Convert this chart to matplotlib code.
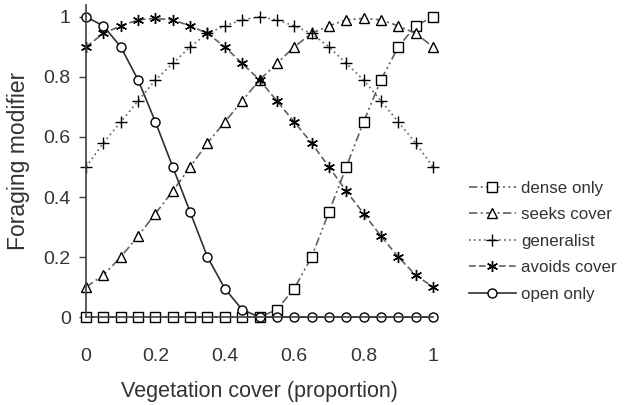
import numpy as np
import matplotlib
matplotlib.use("Agg")
import matplotlib.pyplot as plt

plt.rcParams['font.family'] = ['Liberation Sans', 'DejaVu Sans']

# vegetation cover values (0 to 1 in steps of 0.05)
cover = [0.0, 0.05, 0.1, 0.15, 0.2, 0.25, 0.3, 0.35, 0.4, 0.45, 0.5,
         0.55, 0.6, 0.65, 0.7, 0.75, 0.8, 0.85, 0.9, 0.95, 1.0]

dense_only = [0, 0, 0, 0, 0, 0, 0, 0, 0, 0, 0,
              0.025, 0.095, 0.2, 0.35, 0.5, 0.65, 0.79, 0.9, 0.97, 1.0]
seeks_cover = [0.1, 0.14, 0.2, 0.27, 0.345, 0.42, 0.5, 0.58, 0.65, 0.72, 0.79,
               0.845, 0.9, 0.945, 0.97, 0.99, 0.995, 0.99, 0.97, 0.945, 0.9]
generalist = [0.5, 0.58, 0.65, 0.72, 0.79, 0.845, 0.9, 0.945, 0.97, 0.99, 1.0,
              0.99, 0.97, 0.945, 0.9, 0.845, 0.79, 0.72, 0.65, 0.58, 0.5]
avoids_cover = [0.9, 0.945, 0.97, 0.99, 0.995, 0.99, 0.97, 0.945, 0.9, 0.845, 0.79,
                0.72, 0.65, 0.58, 0.5, 0.42, 0.345, 0.27, 0.2, 0.14, 0.1]
open_only = [1.0, 0.97, 0.9, 0.79, 0.65, 0.5, 0.35, 0.2, 0.095, 0.025, 0,
             0, 0, 0, 0, 0, 0, 0, 0, 0, 0]

xticks = [0, 0.2, 0.4, 0.6, 0.8, 1]
xticklabels = ["0", "0.2", "0.4", "0.6", "0.8", "1"]
yticks = [0, 0.2, 0.4, 0.6, 0.8, 1]
yticklabels = ["0", "0.2", "0.4", "0.6", "0.8", "1"]

fig = plt.figure(figsize=(6.28, 4.05), dpi=100)
ax = fig.add_axes([0.137, 0.217, 0.5525, 0.771])

lc = "#606060"
mk = dict(markerfacecolor="white", markeredgecolor="black", markersize=6.5,
          markeredgewidth=1.0, clip_on=False)

ax.plot(cover, dense_only, color=lc, lw=1.2, ls=(0, (5, 2, 1.2, 2, 1.2, 2)),
        marker="s", label="dense only", **mk)
ax.plot(cover, seeks_cover, color=lc, lw=1.2, ls=(0, (5, 2, 1.2, 2)),
        marker="^", label="seeks cover", **mk)
ax.plot(cover, generalist, color=lc, lw=1.2, ls=(0, (1, 2)),
        marker="+", label="generalist", **dict(mk, markersize=8))
ax.plot(cover, avoids_cover, color=lc, lw=1.2, ls=(0, (4, 2)),
        marker=(6, 2, 0), label="avoids cover", **dict(mk, markersize=8))
ax.plot(cover, open_only, color="#303030", lw=1.2, ls="-",
        marker="o", label="open only", **mk)

ax.set_xlim(0, 1)
ax.set_ylim(0, 1.04)
ax.spines["top"].set_visible(False)
ax.spines["right"].set_visible(False)
ax.spines["left"].set_color("#404040")
ax.spines["bottom"].set_color("#404040")
ax.spines["left"].set_linewidth(1.2)
ax.spines["bottom"].set_linewidth(1.2)

ax.set_xticks(xticks)
ax.set_xticklabels(xticklabels, fontsize=14, color="#333333")
ax.set_yticks(yticks)
ax.set_yticklabels(yticklabels, fontsize=14, color="#333333")
ax.tick_params(axis="x", length=0, pad=22)
ax.tick_params(axis="y", length=5, width=1.0, color="#404040", pad=6)

ax.set_xlabel("Vegetation cover (proportion)", fontsize=15.5, color="#333333", labelpad=12)
ax.set_ylabel("Foraging modifier", fontsize=16.5, color="#333333", labelpad=10)

fig.legend(loc="center left", bbox_to_anchor=(0.722, 0.404), frameon=False,
           fontsize=12.2, handlelength=2.8, handletextpad=0.3, labelspacing=0.68,
           labelcolor="#333333")

fig.savefig("out.png", dpi=100)
